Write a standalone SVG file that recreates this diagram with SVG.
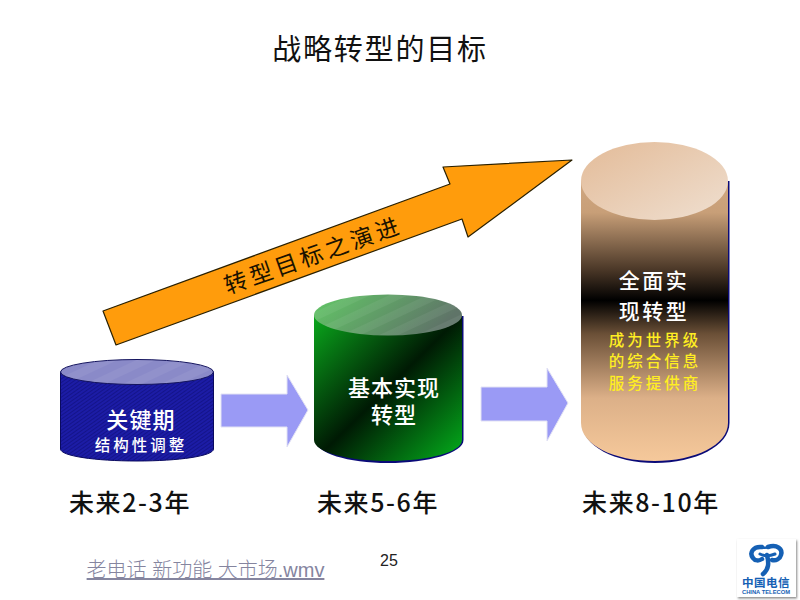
<svg xmlns="http://www.w3.org/2000/svg" width="800" height="600" viewBox="0 0 800 600">
<style>
text{font-family:"Noto Sans CJK SC","Liberation Sans",sans-serif;text-anchor:middle}
.when{font-size:25px;font-weight:500;fill:#111;letter-spacing:1.6px}
.w{fill:#fff;font-weight:500}
.y{fill:#ffee22;font-size:15.5px;font-weight:500;letter-spacing:3px}
.arrow{fill:#9a9af5;stroke:#e2e2f4;stroke-width:1}
.navy{fill:#0a0a78}
</style>
<defs>
<pattern id="hatch" width="3" height="3" patternUnits="userSpaceOnUse" patternTransform="rotate(-35)">
<rect width="3" height="3" fill="#1c1ca6"/><rect width="3" height="1" fill="#14148a"/>
</pattern>
<pattern id="stripe" width="16" height="16" patternUnits="userSpaceOnUse" patternTransform="rotate(-25)">
<rect width="16" height="8" fill="#fff" fill-opacity=".06"/>
</pattern>
<linearGradient id="gTop" x1="0" y1="0" x2="1" y2=".3">
<stop offset="0" stop-color="#62c866"/><stop offset="1" stop-color="#5f7468"/>
</linearGradient>
<linearGradient id="gSide" x1="0" y1="0" x2="1" y2="1">
<stop offset="0" stop-color="#0aa81c"/><stop offset=".5" stop-color="#001a04"/><stop offset="1" stop-color="#04b01c"/>
</linearGradient>
<linearGradient id="tan" gradientUnits="userSpaceOnUse" x1="0" y1="142" x2="0" y2="462">
<stop offset="0" stop-color="#d9b08a"/><stop offset=".22" stop-color="#c89f78"/><stop offset=".4" stop-color="#4a3727"/>
<stop offset=".495" stop-color="#000"/><stop offset=".6" stop-color="#6b5037"/><stop offset=".8" stop-color="#dcb088"/><stop offset="1" stop-color="#f6c99b"/>
</linearGradient>
<linearGradient id="tanTop" x1="0" y1="0" x2="1" y2="1">
<stop offset="0" stop-color="#e3bb98"/><stop offset="1" stop-color="#efdfd0"/>
</linearGradient>
<filter id="soft" x="-20%" y="-20%" width="140%" height="140%"><feDropShadow dx="1" dy="1.5" stdDeviation="1" flood-color="#888"/></filter>
</defs>
<rect width="800" height="600" fill="#fff"/>
<text id="title" x="380" y="60" font-size="29" letter-spacing="1.8" fill="#111">战略转型的目标</text>

<g id="connectors">
<path id="goal-arrow" d="M103 311L450 184L443 167L572 160L468 237L462 219L116 345Z" fill="#ff9c0c" stroke="#2a2000" stroke-width="1.2" stroke-linejoin="round"/>
<path class="arrow" d="M221 394H287V375L308 410L287 447V427H221Z"/>
<path class="arrow" d="M481 387H547V368L568 403L547 441V421H481Z"/>
</g>
<text id="goal-label" transform="translate(313 255) rotate(-19.5)" y="8.500" font-size="23" letter-spacing="3.700" fill="#1a1200">转型目标之演进</text>

<g id="node-key">
<path d="M60.500 372V449C60.500 456 95 461 137 461S213.500 456 213.500 449V372Z" fill="url(#hatch)" stroke="#0a0a60"/>
<ellipse cx="137" cy="372" rx="76.500" ry="12.500" fill="#8a8ac8" stroke="#14145e"/>
<ellipse cx="137" cy="372" rx="76" ry="12" fill="url(#stripe)"/>
<text class="w" x="141" y="428"><tspan font-size="22" letter-spacing="1.200">关键期</tspan><tspan x="141" y="451" font-size="15.500" letter-spacing="3">结构性调整</tspan></text>
</g>
<text id="when-1" class="when" x="130" y="512">未来2-3年</text>

<g id="node-basic">
<path class="navy" d="M315 440C315 453 348 463 388 463S463.500 453 463.500 440V316H315Z"/>
<path d="M314 315V440C314 452 347 461 388 461S462 452 462 440V315Z" fill="url(#gSide)"/>
<ellipse cx="388" cy="315" rx="74" ry="20.500" fill="url(#gTop)"/>
<ellipse cx="388" cy="315" rx="74" ry="20.500" fill="url(#stripe)"/>
<text class="w" font-size="22" letter-spacing="1"><tspan x="394" y="396">基本实现</tspan><tspan x="394" y="423">转型</tspan></text>
</g>
<text id="when-2" class="when" x="378" y="512">未来5-6年</text>

<g id="node-full">
<path class="navy" d="M582 423C582 446 615 463 655 463S729.500 446 729.500 423V181H582Z"/>
<path d="M581 181V423C581 445 614 461 654.500 461S728 445 728 423V181Z" fill="url(#tan)"/>
<ellipse cx="654.500" cy="181" rx="73.500" ry="39" fill="url(#tanTop)"/>
<text class="w" font-size="21" letter-spacing="2.500"><tspan x="654" y="288">全面实</tspan><tspan x="654" y="319">现转型</tspan></text>
<text class="y"><tspan x="655" y="346">成为世界级</tspan><tspan x="655" y="367">的综合信息</tspan><tspan x="655" y="389">服务提供商</tspan></text>
</g>
<text id="when-3" class="when" x="651" y="512">未来8-10年</text>

<text id="link" x="205.500" y="577" font-size="20" fill="#85859f" text-decoration="underline" style="font-family:'Liberation Sans','Noto Sans CJK SC',sans-serif;font-weight:300">老电话 新功能 大市场.wmv</text>
<text id="page" x="389" y="566" font-size="16" fill="#222" style="font-family:'Liberation Sans',sans-serif">25</text>

<g id="logo">
<rect x="737" y="539" width="59" height="58" fill="#fff" filter="url(#soft)"/>
<g fill="none" stroke="#1560b4" stroke-linecap="round">
<path d="M762 547C753 546 749 553 753 558C755 561 759 561 762 559" stroke-width="4.500"/>
<path d="M768 547C777 544 783 549 781 555C780 559 776 561 772 560" stroke-width="4.500"/>
<path d="M760 554C764 556 770 556 775 554" stroke-width="3"/>
<path d="M762 547C764 548 766 548 768 547" stroke-width="2.500"/>
<path d="M767 555C769 563 769 569 763 574" stroke-width="4.500"/>
</g>
<text x="766" y="587" font-size="11.500" font-weight="700" letter-spacing=".5" fill="#1560b4">中国电信</text>
<text x="766" y="594" font-size="5.800" font-weight="700" fill="#1560b4" style="font-family:'Liberation Sans',sans-serif">CHINA TELECOM</text>
</g>
</svg>
